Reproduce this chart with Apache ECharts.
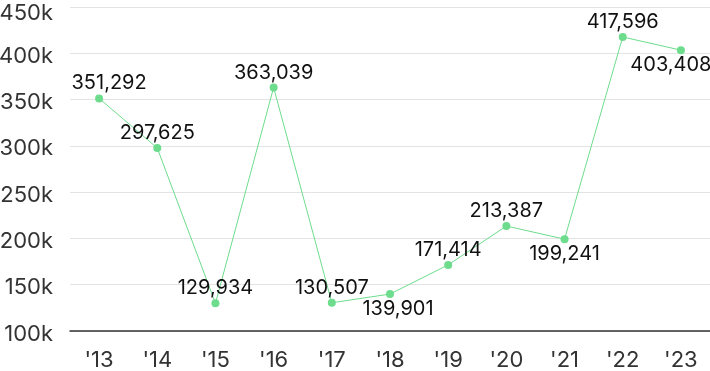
<!DOCTYPE html>
<html><head><meta charset="utf-8">
<script src="https://cdn.jsdelivr.net/npm/echarts@6/dist/echarts.min.js"></script>
<style>html,body{margin:0;padding:0;background:#fff}#c{width:710px;height:371px}</style>
</head><body><div id="c"></div>
<script>
const categories = ["'13","'14","'15","'16","'17","'18","'19","'20","'21","'22","'23"];
const values = [351292, 297625, 129934, 363039, 130507, 139901, 171414, 213387, 199241, 417596, 403408];
const labelPos = ['top','top','top','top','top','bottom','top','top','bottom','top','bottom'];
const labelDx = [10, 0, 0, 0, 0, 8, 0, 0, 0, 0, -10];
const yTicks = [100000,150000,200000,250000,300000,350000,400000,450000];

const chart = echarts.init(document.getElementById('c'));
const font = 'Inter, Roboto, sans-serif';
const yMax = yTicks[yTicks.length-1];
chart.setOption({
  animation:false,
  grid:{left:70,right:0,top:7,bottom:40,containLabel:false,outerBoundsMode:'none'},
  xAxis:{type:'category',data:categories,boundaryGap:true,
    axisLine:{lineStyle:{color:'#333',width:1.5}},axisTick:{show:false},
    axisLabel:{color:'#333',fontSize:22,fontFamily:font,margin:18}},
  yAxis:{type:'value',min:yTicks[0],max:yMax,interval:50000,
    axisLine:{show:false},axisTick:{show:false},
    splitLine:{lineStyle:{color:'#e3e3e3',width:1}},
    axisLabel:{color:'#333',fontSize:22,fontFamily:font,margin:17,align:'right',
      padding:[6,0,0,0],
      formatter:v=>v===yMax?'{t|'+(v/1000)+'k}':(v/1000)+'k',
      rich:{t:{color:'#333',fontSize:22,fontFamily:font,padding:[7,0,0,0]}}}},
  series:[{type:'line',
    data:values.map((v,i)=>({value:v,label:{position:labelPos[i],offset:[labelDx[i],0]}})),
    symbol:'circle',symbolSize:8,
    itemStyle:{color:'#6ddc8c'},lineStyle:{color:'#6ddc8c',width:1},
    label:{show:true,color:'#111',fontSize:20,fontFamily:font,distance:1,
      formatter:p=>p.value.toLocaleString('en-US')}}]
});
</script></body></html>
